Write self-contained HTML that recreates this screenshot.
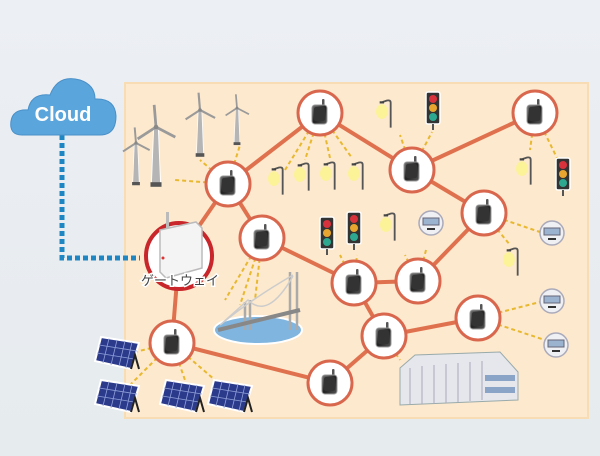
<!DOCTYPE html>
<html><head><meta charset="utf-8"><style>
html,body{margin:0;padding:0;width:600px;height:456px;overflow:hidden;background:#e9edf1}
svg{display:block}
</style></head><body>
<svg width="600" height="456" viewBox="0 0 600 456" xmlns="http://www.w3.org/2000/svg">
<defs>
<linearGradient id="bg" x1="0" y1="0" x2="0" y2="1"><stop offset="0" stop-color="#eceff4"/><stop offset="1" stop-color="#e6ebee"/></linearGradient>
<linearGradient id="dev" x1="0" y1="0" x2="1" y2="1"><stop offset="0" stop-color="#777"/><stop offset="0.5" stop-color="#222"/><stop offset="1" stop-color="#555"/></linearGradient>
<symbol id="node" viewBox="-24 -24 48 48" overflow="visible">
<circle r="22" fill="#fff" stroke="#d9674e" stroke-width="3"/>
<rect x="2" y="-14" width="2.5" height="8" rx="1" fill="#555"/>
<rect x="-8" y="-8" width="15" height="19" rx="3" fill="url(#dev)" stroke="#999" stroke-width="1"/>
<rect x="-6" y="-6" width="11" height="14" rx="2" fill="#333"/>
</symbol>
<symbol id="lamp" viewBox="0 0 30 40" overflow="visible">
<ellipse cx="8" cy="18" rx="8" ry="10" fill="#fbf48a" opacity="0.8"/>
<path d="M20 40 L20 6 Q20 2 15 3 L9 5" stroke="#555" stroke-width="2.5" fill="none"/>
<rect x="5" y="4" width="6" height="3" fill="#444"/>
</symbol>
<symbol id="tl" viewBox="0 0 14 38" overflow="visible">
<rect x="0" y="0" width="14" height="32" rx="2" fill="#333" stroke="#fff" stroke-width="1.5"/>
<circle cx="7" cy="7" r="4" fill="#d8323c"/><circle cx="7" cy="16" r="4" fill="#e8a630"/><circle cx="7" cy="25" r="4" fill="#2ea890"/>
<rect x="6" y="32" width="2" height="6" fill="#555"/>
</symbol>
<symbol id="meter" viewBox="0 0 26 26" overflow="visible">
<circle cx="13" cy="13" r="12" fill="#eef0f3" stroke="#aab" stroke-width="1.5"/>
<rect x="5" y="8" width="16" height="7" fill="#9bb3cf" stroke="#667"/>
<rect x="9" y="18" width="8" height="2" fill="#333"/>
</symbol>
<symbol id="solar" viewBox="0 0 44 36" overflow="visible">
<polygon points="6,2 44,8 36,34 0,26" fill="#2c3a8c" stroke="#fff" stroke-width="2"/>
<path d="M14,3.5 L8,28 M22,5 L16,30 M30,6 L24,31 M37,7 L31,33 M4,10 L42,16 M2,18 L39,24" stroke="#8fa0d8" stroke-width="0.8"/>
<path d="M36,34 L40,20 L44,34" stroke="#222" stroke-width="2" fill="none"/>
</symbol>
<symbol id="turb" viewBox="-25 -25 50 95" overflow="visible">
<polygon points="-2.5,0 2.5,0 5,62 -5,62" fill="#b5b5b5" stroke="#fff" stroke-width="1"/>
<rect x="-6" y="60" width="12" height="5" fill="#555"/>
<path d="M0,0 L-2,-24 M0,0 L21,11 M0,0 L-20,13" stroke="#9a9a9a" stroke-width="3"/>
<circle r="2.5" fill="#888"/>
</symbol>
</defs>
<rect width="600" height="456" fill="url(#bg)"/>
<rect x="125" y="83" width="463" height="335" fill="#fde9cd" stroke="#f8dcb4" stroke-width="2"/>
<path d="M62 135 L62 258 L140 258" stroke="#1f86c4" stroke-width="5" stroke-dasharray="5 3" fill="none"/>
<g fill="#5aa5dc" stroke="#4a90c8" stroke-width="1">
<path d="M22 135 Q9 135 11 121 Q13 109 28 110 Q31 93 50 95 Q58 74 80 80 Q95 85 95 99 Q115 98 116 116 Q116 135 100 135 Z"/>
</g>
<text x="63" y="121" text-anchor="middle" font-family="Liberation Sans, sans-serif" font-weight="bold" font-size="20" fill="#fff">Cloud</text>
<g stroke="#e8b830" stroke-width="2" stroke-dasharray="4 3" fill="none">
<path d="M228 184 L175 180 M228 184 L240 145 M228 184 L200 160"/>
<path d="M320 113 L285 170 M320 113 L305 160 M320 113 L330 158 M320 113 L352 158"/>
<path d="M412 170 L400 135 M412 170 L432 132"/>
<path d="M535 113 L530 150 M535 113 L558 160"/>
<path d="M262 238 L225 300 M262 238 L240 305 M262 238 L255 300"/>
<path d="M354 283 L340 255 M354 283 L357 255"/>
<path d="M418 281 L405 255 M418 281 L426 250"/>
<path d="M484 213 L540 232 M484 213 L510 245"/>
<path d="M478 318 L540 302 M478 318 L545 340"/>
<path d="M384 336 L400 360"/>
<path d="M172 343 L135 352 M172 343 L130 385 M172 343 L185 380 M172 343 L215 380"/>
</g>
<g stroke="#e0714e" stroke-width="4" fill="none">
<path d="M179 255 L228 184 M228 184 L320 113 M228 184 L262 238 M320 113 L412 170 M412 170 L535 113 M412 170 L484 213 M262 238 L354 283 M354 283 L418 281 M418 281 L484 213 M354 283 L384 336 M384 336 L478 318 M384 336 L330 383 M330 383 L172 343 M172 343 L179 255"/>
</g>
<g transform="translate(136,143) scale(0.65)"><use href="#turb" x="-25" y="-25" width="50" height="95"/></g>
<g transform="translate(156,127) scale(0.92)"><use href="#turb" x="-25" y="-25" width="50" height="95"/></g>
<g transform="translate(200,110) scale(0.72)"><use href="#turb" x="-25" y="-25" width="50" height="95"/></g>
<g transform="translate(237,108) scale(0.57)"><use href="#turb" x="-25" y="-25" width="50" height="95"/></g>
<use href="#lamp" x="268" y="162" width="22" height="36"/>
<use href="#lamp" x="294" y="158" width="22" height="36"/>
<use href="#lamp" x="320" y="157" width="22" height="36"/>
<use href="#lamp" x="348" y="157" width="22" height="36"/>
<use href="#lamp" x="376" y="95" width="22" height="36"/>
<use href="#lamp" x="516" y="152" width="22" height="36"/>
<use href="#lamp" x="380" y="208" width="22" height="36"/>
<use href="#lamp" x="503" y="243" width="22" height="36"/>
<use href="#tl" x="426" y="92" width="14" height="38"/>
<use href="#tl" x="556" y="158" width="14" height="38"/>
<use href="#tl" x="320" y="217" width="14" height="38"/>
<use href="#tl" x="347" y="212" width="14" height="38"/>
<use href="#meter" x="418" y="210" width="26" height="26"/>
<use href="#meter" x="539" y="220" width="26" height="26"/>
<use href="#meter" x="539" y="288" width="26" height="26"/>
<use href="#meter" x="543" y="332" width="26" height="26"/>
<ellipse cx="258" cy="330" rx="44" ry="14" fill="#7fb5df" stroke="#fff" stroke-width="2"/>
<g stroke="#aaa" stroke-width="2.5" fill="none">
<path d="M290 272 L290 330 M297 272 L297 330 M250 300 L250 330 M245 302 L245 330"/>
<path d="M218 330 L300 310" stroke="#888" stroke-width="4"/>
<path d="M220 325 Q250 300 293 275 M220 325 L248 300 Q268 320 293 276" stroke="#ccc" stroke-width="1.5"/>
</g>
<g>
<polygon points="400,368 415,355 500,352 518,372 518,400 400,405" fill="#e5e7ec" stroke="#9aa" stroke-width="1"/>
<g stroke="#aab" stroke-width="1"><path d="M410 368 V404 M422 366 V404 M434 365 V404 M446 364 V403 M458 363 V402 M470 362 V401 M482 361 V400"/></g>
<rect x="485" y="375" width="30" height="6" fill="#8aa4c8"/><rect x="485" y="387" width="30" height="6" fill="#8aa4c8"/>
</g>
<use href="#solar" x="95" y="335" width="44" height="36"/>
<use href="#solar" x="95" y="378" width="44" height="36"/>
<use href="#solar" x="160" y="378" width="44" height="36"/>
<use href="#solar" x="208" y="378" width="44" height="36"/>
<use href="#node" x="204" y="160" width="48" height="48"/>
<use href="#node" x="296" y="89" width="48" height="48"/>
<use href="#node" x="388" y="146" width="48" height="48"/>
<use href="#node" x="511" y="89" width="48" height="48"/>
<use href="#node" x="238" y="214" width="48" height="48"/>
<use href="#node" x="460" y="189" width="48" height="48"/>
<use href="#node" x="330" y="259" width="48" height="48"/>
<use href="#node" x="394" y="257" width="48" height="48"/>
<use href="#node" x="360" y="312" width="48" height="48"/>
<use href="#node" x="454" y="294" width="48" height="48"/>
<use href="#node" x="148" y="319" width="48" height="48"/>
<use href="#node" x="306" y="359" width="48" height="48"/>
<circle cx="179" cy="256" r="33" fill="#fff" stroke="#c8262a" stroke-width="4"/>
<rect x="166" y="212" width="3" height="20" fill="#bbb"/>
<polygon points="160,230 196,222 202,228 202,268 166,278 160,272" fill="#f4f4f4" stroke="#bbb" stroke-width="1.5"/>
<circle cx="163" cy="258" r="1.5" fill="#d33"/>
<text x="180" y="285" text-anchor="middle" font-family="Liberation Sans, 'Noto Sans CJK JP', sans-serif" font-size="13" fill="#444" stroke="#fff" stroke-width="3" paint-order="stroke">ゲートウェイ</text>
</svg>
</body></html>
